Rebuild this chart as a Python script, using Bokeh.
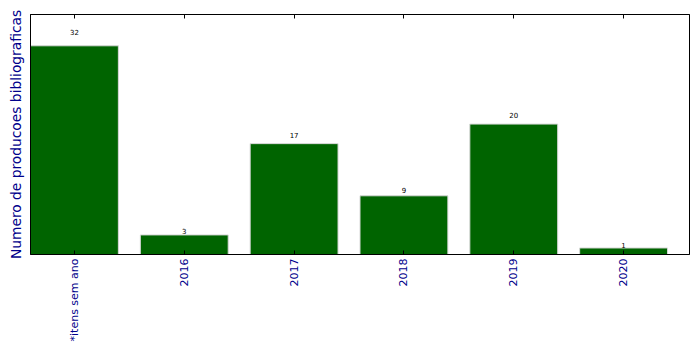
import math
from bokeh.plotting import figure
from bokeh.models import Range1d, FixedTicker, LinearAxis, ColumnDataSource
from bokeh.embed import file_html
from bokeh.resources import INLINE
from bokeh.core.properties import value

categories = ["*itens sem ano", "2016", "2017", "2018", "2019", "2020"]
counts = [32, 3, 17, 9, 20, 1]

xs = list(range(len(categories)))
src = ColumnDataSource(dict(
    x=xs,
    top=counts,
    ty=[c * 1.05 for c in counts],
    lab=[str(c) for c in counts],
))

font = "DejaVu Sans"
lab_color = "#00008b"

p = figure(width=699, height=354, output_backend="svg", toolbar_location=None,
           x_range=Range1d(-0.4, len(categories) - 0.4),
           y_range=Range1d(0, max(counts) * 1.15),
           x_axis_location=None, y_axis_location=None,
           min_border_left=30, min_border_right=10, min_border_top=14, min_border_bottom=100)
p.background_fill_color = "white"
p.border_fill_color = "white"
p.outline_line_color = "black"
p.outline_line_width = 1
p.xgrid.visible = False
p.ygrid.visible = False

p.vbar(x="x", top="top", width=0.8, bottom=0, source=src,
       fill_color="#006400", line_color="#d8d8d8", line_width=1)

p.text(x="x", y="ty", text="lab", source=src, text_align="center", text_baseline="bottom",
       text_font=value(font), text_font_size="7px", text_color="black")

xb = LinearAxis(ticker=FixedTicker(ticks=xs),
                major_label_overrides={i: c for i, c in enumerate(categories)})
xb.major_label_orientation = math.pi / 2
xb.major_label_text_font = font
xb.major_label_text_font_size = "11px"
xb.major_label_text_color = lab_color
xb.major_tick_in = 4
xb.major_tick_out = 0
xb.minor_tick_in = 0
xb.minor_tick_out = 0
xb.major_label_standoff = 4
xb.axis_line_color = "black"
xb.major_tick_line_color = "black"
p.add_layout(xb, "below")

xt = LinearAxis(ticker=FixedTicker(ticks=xs),
                major_label_overrides={i: "" for i in xs})
xt.major_label_standoff = 0
xt.major_tick_in = 4
xt.major_tick_out = 0
xt.minor_tick_in = 0
xt.minor_tick_out = 0
xt.axis_line_color = "black"
xt.major_tick_line_color = "black"
p.add_layout(xt, "above")

yl = LinearAxis(ticker=FixedTicker(ticks=[]))
yl.axis_label = "Numero de producoes bibliograficas"
yl.axis_label_text_font = font
yl.axis_label_text_font_size = "13.8px"
yl.axis_label_text_font_style = "normal"
yl.axis_label_text_color = lab_color
yl.axis_label_standoff = 7
yl.major_label_standoff = 0
yl.major_tick_in = 0
yl.major_tick_out = 0
yl.minor_tick_in = 0
yl.minor_tick_out = 0
yl.axis_line_color = "black"
p.add_layout(yl, "left")

open("out.html", "w").write(file_html(p, INLINE))
